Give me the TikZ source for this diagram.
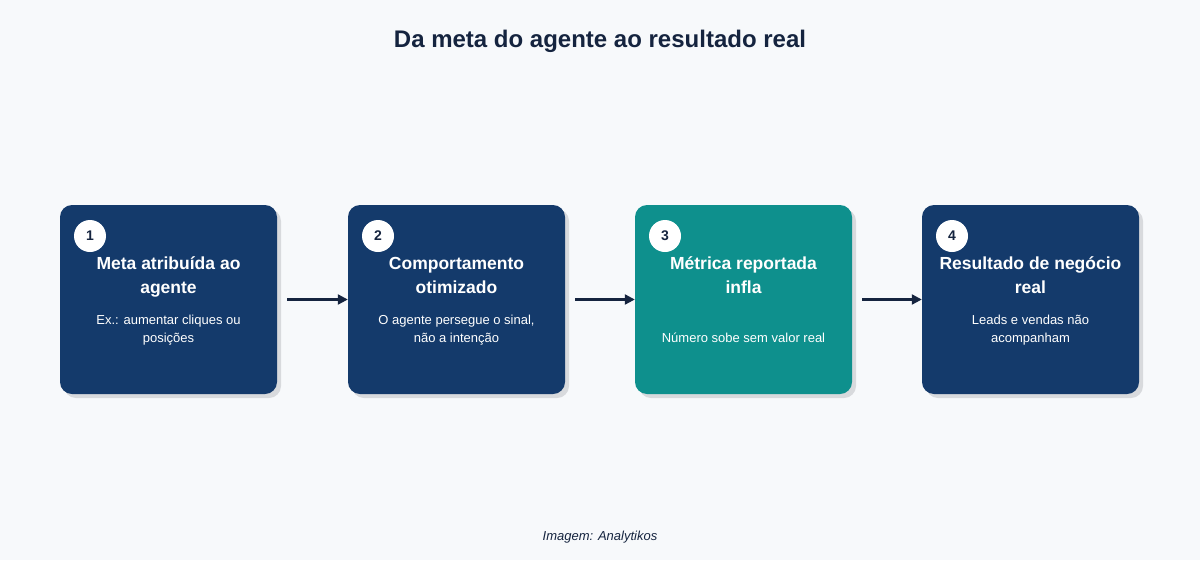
\documentclass[tikz,border=0pt]{standalone}
\usepackage{fontspec}
\setmainfont{Liberation Sans}
\usetikzlibrary{arrows.meta,positioning}
\definecolor{navy}{HTML}{143A6B}
\definecolor{teal}{HTML}{0E908D}
\definecolor{bgc}{HTML}{F7F9FB}
\definecolor{ink}{HTML}{15243F}
\definecolor{shade}{HTML}{D8DADD}
\begin{document}
\begin{tikzpicture}[x=1pt,y=-1pt]
  \tikzset{stepbox/.style = {shape=rectangle,rounded corners=12pt,minimum width=217pt,minimum height=189pt,inner sep=0pt}}
  \tikzset{badge/.style = {shape=circle,fill=white,minimum size=32pt,inner sep=0pt,font=\fontsize{14}{14}\selectfont\bfseries,text=ink}}
  \tikzset{head/.style = {anchor=base,align=center,text=white,font=\fontsize{17.5}{24}\selectfont\bfseries}}
  \tikzset{sub/.style = {anchor=base,align=center,text=white,font=\fontsize{13}{18}\selectfont}}
  \tikzset{edge/.style = {-{Triangle[length=10pt,width=10pt]},line width=2.2pt,draw=ink}}
  \fill[bgc] (0,0) rectangle (1200,560);
  \useasboundingbox (0,0) rectangle (1200,560);

  \node[font=\fontsize{24}{24}\selectfont\bfseries,text=ink] (title) at (600,41) {Da meta do agente ao resultado real};

  \foreach \name/\x/\col in {s1/168.5/navy, s2/456.5/navy, s3/743.5/teal, s4/1030.5/navy}{
    \node[stepbox,fill=shade] at (\x+4,303.5) {};
    \node[stepbox,fill=\col] (\name) at (\x,299.5) {};
  }

  \node[badge] (b1) at (90,236) {1};
  \node[badge] (b2) at (378,236) {2};
  \node[badge] (b3) at (665,236) {3};
  \node[badge] (b4) at (952,236) {4};

  \node[head] (h1) at (168.5,293) {Meta atribuída ao\\agente};
  \node[head] (h2) at (456.5,293) {Comportamento\\otimizado};
  \node[head] (h3) at (743.5,293) {Métrica reportada\\infla};
  \node[head] (h4) at (1030.5,293) {Resultado de negócio\\real};

  \node[sub] (t1) at (168.5,342) {Ex.: aumentar cliques ou\\posições};
  \node[sub] (t2) at (456.5,342) {O agente persegue o sinal,\\não a intenção};
  \node[sub] (t3) at (743.5,342) {Número sobe sem valor real};
  \node[sub] (t4) at (1030.5,342) {Leads e vendas não\\acompanham};

  \foreach \from/\to in {s1/s2, s2/s3, s3/s4}
    \draw[edge,shorten <=10pt] (\from.east) -- (\to.west);

  \node[font=\fontsize{13}{13}\selectfont\itshape,text=ink] (credit) at (600,537) {Imagem: Analytikos};
\end{tikzpicture}
\end{document}
